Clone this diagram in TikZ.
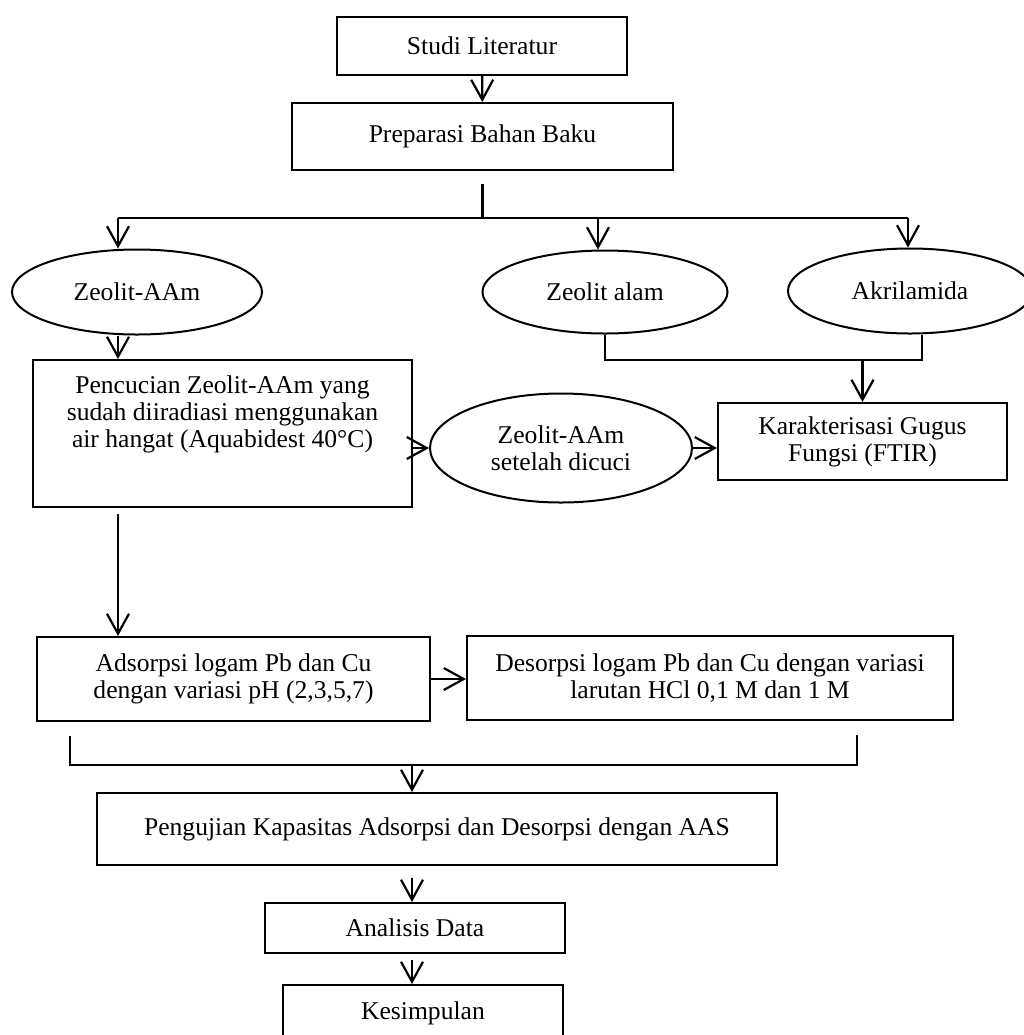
\documentclass[tikz,border=0pt]{standalone}
\usepackage{fontspec}
\setmainfont{Liberation Serif}
\usetikzlibrary{shapes.geometric,arrows.meta}
\begin{document}
\begin{tikzpicture}[x=0.5pt,y=-0.5pt,
  font=\fontsize{12.8pt}{13.5pt}\selectfont,
  box/.style={draw,line width=1pt,rectangle,inner sep=0pt,align=center},
  oval/.style={draw,line width=1pt,ellipse,inner sep=0pt,align=center},
  txt/.style={inner sep=0pt,align=center},
  ln/.style={line width=1.1pt},
  arr/.style={line width=1.1pt,-{Straight Barb[length=10pt,width=11pt,line width=1.1pt]}}]
\useasboundingbox[fill=white] (0,0) rectangle (1024,1035);

% nodes
\node[box,minimum width=145pt,minimum height=29pt] (studi) at (482,46) {Studi Literatur};
\node[box,minimum width=190.5pt,minimum height=33.5pt] (prep) at (482.5,136.5) {Preparasi Bahan Baku};
\node[oval,minimum width=125pt,minimum height=42.5pt] (zaam) at (137,292) {Zeolit-AAm};
\node[oval,minimum width=122.5pt,minimum height=41.5pt] (zalam) at (605,292) {Zeolit alam};
\node[oval,minimum width=122pt,minimum height=42.5pt] (akril) at (910,291) {Akrilamida};
\node[box,minimum width=189.5pt,minimum height=73.5pt] (pencuc) at (222.5,433.5) {};
\node[txt] (pencuctxt) at (222.5,414) {Pencucian Zeolit-AAm yang\\sudah diiradiasi menggunakan\\air hangat (Aquabidest 40°C)};
\node[oval,minimum width=131pt,minimum height=54.5pt] (dicuci) at (561,448) {Zeolit-AAm\\setelah dicuci};
\node[box,minimum width=144.5pt,minimum height=38.5pt] (karak) at (862.5,441.5) {Karakterisasi Gugus\\Fungsi (FTIR)};
\node[box,minimum width=196.5pt,minimum height=42pt] (adsorp) at (233.5,679) {Adsorpsi logam Pb dan Cu\\dengan variasi pH (2,3,5,7)};
\node[box,minimum width=243pt,minimum height=42pt] (desorp) at (710,678) {Desorpsi logam Pb dan Cu dengan variasi\\larutan HCl 0,1 M dan 1 M};
\node[box,minimum width=340pt,minimum height=36pt] (peng) at (437,829) {Pengujian Kapasitas Adsorpsi dan Desorpsi dengan AAS};
\node[box,minimum width=150pt,minimum height=25pt] (anal) at (415,928) {Analisis Data};
\node[box,minimum width=140pt,minimum height=28pt] (kesim) at (423,1013) {Kesimpulan};

% helper coordinates
\coordinate (busL) at (118,218);
\coordinate (busR) at (908,218);
\coordinate (busA) at (598,218);
\coordinate (jL) at (605,360);
\coordinate (jR) at (922,360);
\coordinate (bL) at (70,765);
\coordinate (bR) at (857,765);
\coordinate (bM) at (412,765);

% connectors
\draw[arr] (studi) -- (prep);
\draw[ln,shorten <=6.5pt] (prep.south) -- (prep.south |- busL);
\draw[ln] (busL) -- (busR);
\draw[arr] (busL) -- (busL |- zaam.north);
\draw[arr] (busA) -- (busA |- zalam.north);
\draw[arr] (busR) -- (busR |- akril.north);
\draw[arr] (busL |- zaam.south) -- (busL |- pencuc.north);
\draw[ln] (zalam.south) -- (jL) -- (jR) -- (jR |- akril.south);
\draw[arr] (karak.north |- jL) -- (karak.north);
\draw[arr] (pencuc.east |- dicuci.west) -- (dicuci.west);
\draw[arr] (dicuci.east) -- (karak.west |- dicuci.east);
\draw[arr,shorten <=3pt] (busL |- pencuc.south) -- (busL |- adsorp.north);
\draw[arr] (adsorp.east) -- (desorp.west |- adsorp.east);
\draw[ln,shorten <=7pt,shorten >=7pt] (bL |- adsorp.south) -- (bL) -- (bR) -- (bR |- desorp.south);
\draw[arr] (bM) -- (bM |- peng.north);
\draw[arr,shorten <=6pt] (bM |- peng.south) -- (bM |- anal.north);
\draw[arr,shorten <=3pt] (bM |- anal.south) -- (bM |- kesim.north);
\end{tikzpicture}
\end{document}
